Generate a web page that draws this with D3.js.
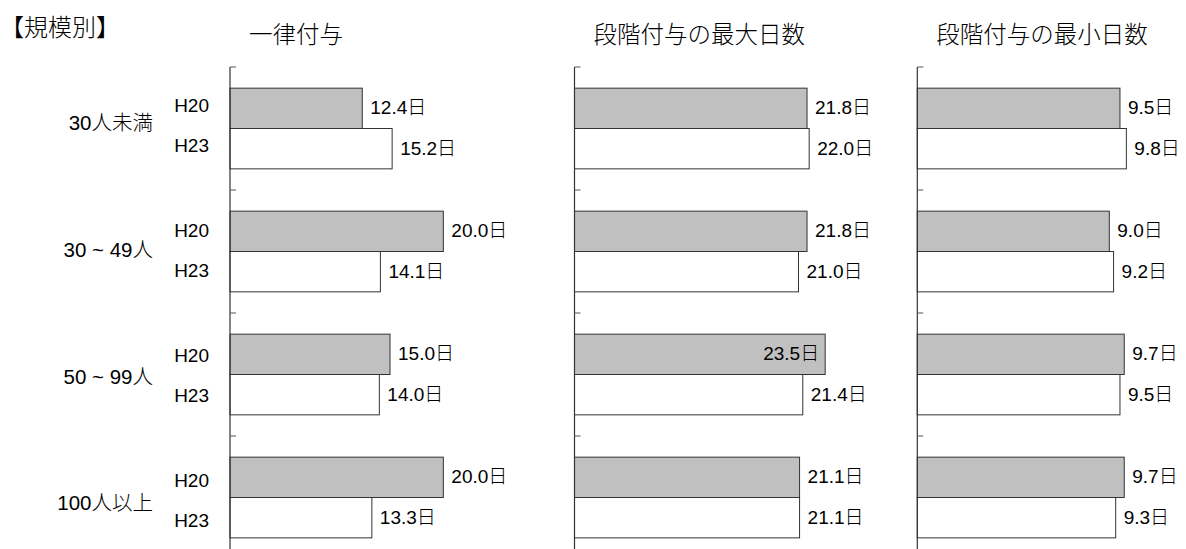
<!DOCTYPE html>
<html><head><meta charset="utf-8">
<script src="https://cdn.jsdelivr.net/npm/d3@7/dist/d3.min.js"></script>
<style>
html,body{margin:0;padding:0;background:#fff;}
svg{display:block;}
text{fill:#000;font-weight:300;}
</style></head>
<body><svg id="chart" width="1186" height="549"></svg>
<script>
const categories = ["30人未満", "30 ~ 49人", "50 ~ 99人", "100人以上"];
const series = ["H20", "H23"];
const panelTitles = ["一律付与", "段階付与の最大日数", "段階付与の最小日数"];
const uniformH20 = [12.4, 20.0, 15.0, 20.0];
const uniformH23 = [15.2, 14.1, 14.0, 13.3];
const maxDaysH20 = [21.8, 21.8, 23.5, 21.1];
const maxDaysH23 = [22.0, 21.0, 21.4, 21.1];
const minDaysH20 = [9.5, 9.0, 9.7, 9.7];
const minDaysH23 = [9.8, 9.2, 9.5, 9.3];
const domainMax = [30, 30, 15];
const unit = "日";
const heading = "【規模別】";

const panels = [
  {title: panelTitles[0], values: [uniformH20, uniformH23], max: domainMax[0], x0: 230, x1: 550},
  {title: panelTitles[1], values: [maxDaysH20, maxDaysH23], max: domainMax[1], x0: 574.5, x1: 894.5},
  {title: panelTitles[2], values: [minDaysH20, minDaysH23], max: domainMax[2], x0: 917.3, x1: 1237.3}
];

const svg = d3.select("#chart");
const latin = "'Liberation Sans', Arial, 'Noto Sans CJK JP', sans-serif";
const cjk = "'Noto Sans CJK JP', sans-serif";
const fmt = d3.format(".1f");
const fills = {H20: "#c0c0c0", H23: "#ffffff"};

const y = d3.scaleBand().domain(categories).range([67, 559]).paddingInner(0.344).paddingOuter(0.172);
const ys = d3.scaleBand().domain(series).range([0, y.bandwidth()]);
// label placement scales (labels spread slightly wider than bars in the reference)
const yLab = d3.scaleBand().domain(categories).range([62.8, 562.8]);
const yCat = d3.scaleBand().domain(categories).range([59.1, 566.3]);

svg.append("text").attr("x", 0).attr("y", 25).attr("dominant-baseline", "central")
  .style("font-family", cjk).style("font-size", "24px").text(heading);

// category labels
svg.append("g").selectAll("text").data(categories).join("text")
  .attr("x", 153).attr("y", d => yCat(d) + yCat.bandwidth() / 2)
  .attr("text-anchor", "end").attr("dominant-baseline", "central")
  .style("font-family", latin).style("font-size", "20.5px").text(d => d);

// series labels
categories.forEach(c => {
  svg.append("g").selectAll("text").data(series).join("text")
    .attr("x", 209)
    .attr("y", (d, i) => yLab(c) + yLab.bandwidth() / 2 + (i === 0 ? -19.8 : 19.8))
    .attr("text-anchor", "end").attr("dominant-baseline", "central")
    .style("font-family", latin).style("font-size", "19px").text(d => d);
});

panels.forEach(p => {
  const x = d3.scaleLinear().domain([0, p.max]).range([p.x0, p.x1]);
  const g = svg.append("g");

  g.append("text").attr("x", p.x0 + 19).attr("y", 33).attr("dominant-baseline", "central")
    .style("font-family", cjk).style("font-size", "23.5px").text(p.title);

  const rows = [];
  categories.forEach((c, ci) => series.forEach((s, si) => rows.push({c, s, v: p.values[si][ci]})));

  g.selectAll("rect").data(rows).join("rect")
    .attr("x", x(0))
    .attr("y", d => y(d.c) + ys(d.s))
    .attr("width", d => x(d.v) - x(0))
    .attr("height", ys.bandwidth())
    .attr("fill", d => fills[d.s])
    .attr("stroke", "#333").attr("stroke-width", 1);

  g.selectAll("text.val").data(rows).join("text").attr("class", "val")
    .each(function(d) {
      const inside = d.v / p.max > 0.76;
      d3.select(this)
        .attr("x", inside ? x(d.v) - 6 : x(d.v) + 8)
        .attr("text-anchor", inside ? "end" : "start");
    })
    .attr("y", d => y(d.c) + ys(d.s) + ys.bandwidth() / 2 - 0.5)
    .attr("dominant-baseline", "central")
    .style("font-family", latin).style("font-size", "19px")
    .text(d => fmt(d.v) + unit);

  // vertical category axis with inward ticks
  const tickYs = categories.map(c => y(c) - y.step() * y.paddingOuter()).concat([y.range()[1]]);
  g.append("line").attr("x1", x(0)).attr("x2", x(0)).attr("y1", 67).attr("y2", 560)
    .attr("stroke", "#333").attr("stroke-width", 1.2);
  g.selectAll("line.tick").data(tickYs).join("line").attr("class", "tick")
    .attr("x1", x(0)).attr("x2", x(0) + 6).attr("y1", d => d).attr("y2", d => d)
    .attr("stroke", "#555").attr("stroke-width", 1);
});
</script></body></html>
